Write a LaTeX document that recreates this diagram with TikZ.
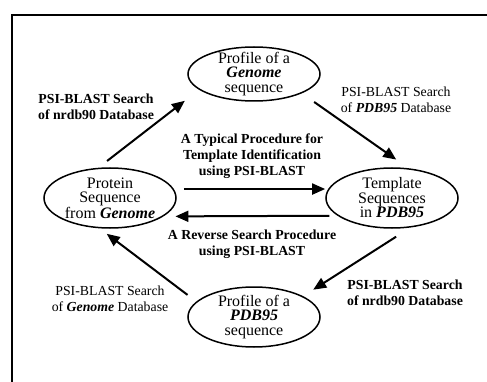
\documentclass[tikz,border=0pt]{standalone}
\usepackage{fontspec}
\setmainfont{Liberation Serif}
\usetikzlibrary{arrows.meta,positioning,shapes.geometric}

\newcommand{\bi}[1]{\textbf{\textit{#1}}}

\begin{document}
\begin{tikzpicture}[
  x=1pt,y=-1pt,
  seq/.style={ellipse,draw,line width=1.5pt,inner xsep=0pt,inner ysep=-12pt,
    minimum width=132pt,minimum height=60pt,align=center,
    font=\fontsize{16}{14.5}\selectfont},
  lbl/.style={align=center,font=\fontsize{13.8}{16}\selectfont},
  boldlbl/.style={lbl,font=\fontsize{13.8}{16}\selectfont\bfseries},
  arrow/.style={-{Triangle[length=13pt,width=11pt]},line width=2pt}
]
\useasboundingbox (0,0) rectangle (487,382);
% open frame, top and left edges only
\draw[line width=2pt] (12,382) |- (487,15);

\node[seq] (prot) at (110,198) {Protein\\Sequence\\from \bi{Genome}};
\node[seq] (tmpl) at (392,198) {Template\\Sequences\\in \bi{PDB95}};
\node[seq,minimum height=54pt] (gprof) at (254,74) {Profile of a\\\bi{Genome}\\sequence};
\node[seq] (pprof) at (254,317) {Profile of a\\\bi{PDB95}\\sequence};

\node[boldlbl] (nrdbup) at (96,107) {PSI-BLAST Search\\of nrdb90 Database};
\node[lbl] (pdbsearch) at (396,100) {PSI-BLAST Search\\of \bi{PDB95} Database};
\node[boldlbl] (typical) at (252,156) {A Typical Procedure for\\Template Identification\\using PSI-BLAST};
\node[boldlbl] (reverse) at (252,244) {A Reverse Search Procedure\\using PSI-BLAST};
\node[lbl] (gensearch) at (110,299) {PSI-BLAST Search\\of \bi{Genome} Database};
\node[boldlbl] (nrdbdown) at (405,293) {PSI-BLAST Search\\of nrdb90 Database};

% cycle round the four sequences
\draw[arrow,shorten <=11pt,shorten >=18pt] (prot.111) -- (gprof.196);
\draw[arrow,shorten <=15pt,shorten >=15pt] (gprof.338) -- (tmpl.61);
\draw[arrow,shorten <=17pt,shorten >=12pt] (tmpl.302) -- (pprof.23);
\draw[arrow,shorten <=11pt,shorten >=9pt] (pprof.165) -- (prot.251);
% direct and reverse search
\draw[arrow,shorten <=10pt,shorten >=3pt] (prot.8) -- (tmpl.172);
\draw[arrow,shorten <=8pt,shorten >=12pt] (tmpl.198) -- (prot.341);
\end{tikzpicture}
\end{document}
